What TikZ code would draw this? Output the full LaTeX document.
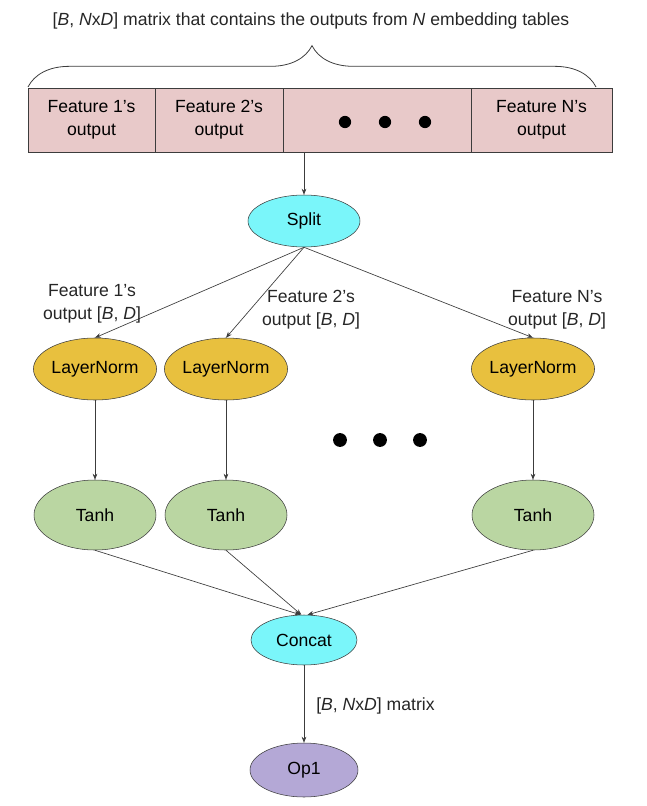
\documentclass[tikz,border=0pt]{standalone}
\usepackage{fontspec}
\setmainfont{Liberation Sans}
\usetikzlibrary{shapes.geometric,decorations.pathreplacing,arrows.meta}

\definecolor{cellpink}{RGB}{232,201,201}
\definecolor{opcyan}{RGB}{122,246,250}
\definecolor{normgold}{RGB}{232,192,62}
\definecolor{tanhgreen}{RGB}{186,214,162}
\definecolor{oppurple}{RGB}{180,168,214}
\definecolor{edgegray}{RGB}{60,60,60}

\tikzset{
  cell/.style={draw=edgegray, fill=cellpink, minimum height=48pt, inner sep=0pt, align=center},
  op/.style={ellipse, draw=edgegray, inner sep=0pt},
  arr/.style={-{Stealth[length=4.5pt,width=3.5pt]}, edgegray, line width=0.5pt},
  lbl/.style={align=center, inner sep=0pt, text=black!85},
}

\begin{document}
\begin{tikzpicture}[x=0.75pt, y=-0.75pt, font=\fontsize{13.2}{17.2}\selectfont]
  \useasboundingbox (0,0) rectangle (646,806);
  \node[lbl] (title) at (311,21) {[\textit{B}, \textit{N}x\textit{D}] matrix that contains the outputs from \textit{N} embedding tables};
  \draw[decorate, decoration={brace, amplitude=31pt}, edgegray, line width=0.6pt] (28,87) -- (596,87);
  % the N x D output strip
  \node[cell, minimum width=95.25pt] (cell1) at (91.5,120) {Feature 1’s\\output};
  \node[cell, minimum width=96pt] (cell2) at (219,120) {Feature 2’s\\output};
  \node[cell, minimum width=141pt] (cell3) at (377,120) {};
  \node[cell, minimum width=105.75pt] (cellN) at (541.5,120) {Feature N’s\\output};
  \foreach \dx in {345,385,425} \fill (\dx,122) circle[radius=4.6pt];
  \node[op, fill=opcyan, minimum width=84pt, minimum height=39pt] (split) at (304,221) {Split};
  \draw[arr] (split.north |- cell3.south) -- (split.north);
  % one column per feature
  \foreach \i/\cx in {1/95, 2/226, N/533} {
    \node[op, fill=normgold, minimum width=88.5pt, minimum height=46.5pt] (ln\i) at (\cx,369) {LayerNorm};
    \node[op, fill=tanhgreen, minimum width=91.5pt, minimum height=52.5pt] (tanh\i) at (\cx,515) {Tanh};
    \draw[arr] (split.south) -- (ln\i.north);
    \draw[arr] (ln\i.south) -- (tanh\i.north);
  }
  \node[lbl] (lab1) at (92,304) {Feature 1’s\\output [\textit{B}, \textit{D}]};
  \node[lbl] (lab2) at (311,310) {Feature 2’s\\output [\textit{B}, \textit{D}]};
  \node[lbl] (labN) at (557,310) {Feature N’s\\output [\textit{B}, \textit{D}]};
  \foreach \dx in {340,380,420} \fill (\dx,440) circle[radius=5.2pt];
  \node[op, fill=opcyan, minimum width=79.5pt, minimum height=37.5pt] (concat) at (304,640) {Concat};
  \node[op, fill=oppurple, minimum width=81pt, minimum height=40.5pt] (op1) at (304,770) {Op1};
  \draw[arr] (tanh1.south) -- (concat.98);
  \draw[arr] (tanh2.south) -- (concat.96);
  \draw[arr] (tanhN.south) -- (concat.82);
  \draw[arr] (concat.south) -- (op1.north);
  \node[lbl, anchor=west] (matlab) at (316,706) {[\textit{B}, \textit{N}x\textit{D}] matrix};
\end{tikzpicture}
\end{document}
